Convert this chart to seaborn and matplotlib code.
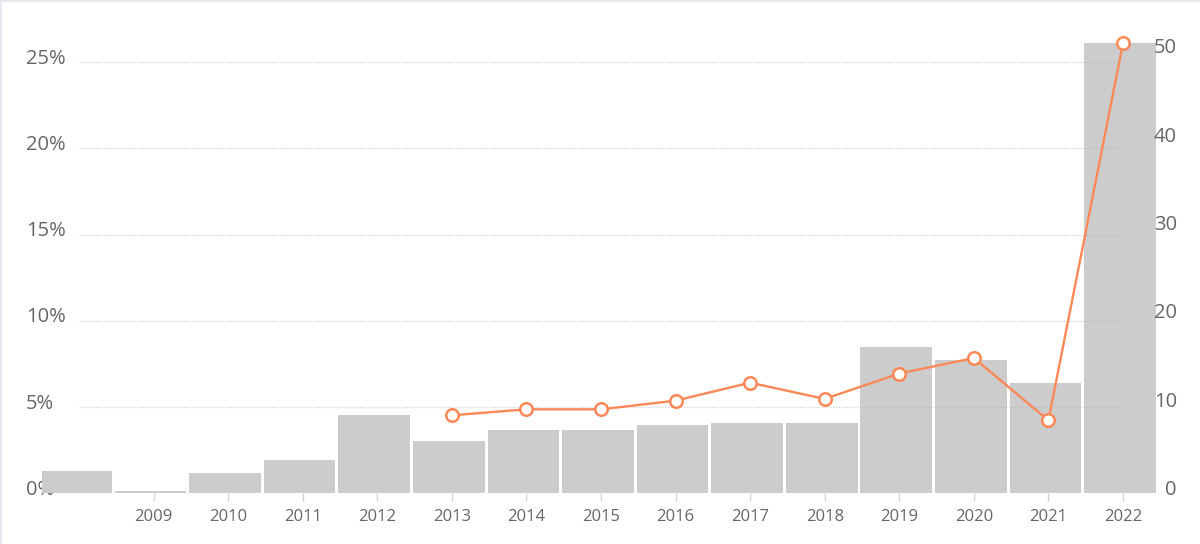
import matplotlib
matplotlib.use("Agg")
import matplotlib.pyplot as plt
import matplotlib.transforms as mtransforms
from matplotlib.lines import Line2D
import numpy as np
import seaborn as sns

# values
years = ["2008", "2009", "2010", "2011", "2012", "2013", "2014", "2015",
         "2016", "2017", "2018", "2019", "2020", "2021", "2022"]
tick_labels = ["", "2009", "2010", "2011", "2012", "2013", "2014", "2015",
               "2016", "2017", "2018", "2019", "2020", "2021", "2022"]
bar_share = [1.31, 0.15, 1.19, 1.91, 4.57, 3.03, 3.67, 3.67,
             3.98, 4.06, 4.07, 8.49, 7.75, 6.38, 26.1]
line_count = [np.nan, np.nan, np.nan, np.nan, np.nan, 8.83, 9.51, 9.51,
              10.49, 12.53, 10.69, 13.56, 15.32, 8.26, 50.95]
left_ticks = [0, 5, 10, 15, 20, 25]
right_ticks = [0, 10, 20, 30, 40, 50]

sns.set_theme(style="white")
plt.rcParams["font.family"] = ["Open Sans", "DejaVu Sans"]

text_grey = "#666666"
bar_grey = "#cccccc"
orange = "#fd8857"

fig = plt.figure(figsize=(12, 5.44), dpi=100)
ax = fig.add_axes([0.0347, 0.0932, 0.9322, 0.87])

sns.barplot(x=years, y=bar_share, ax=ax, color=bar_grey, width=0.96,
            saturation=1, edgecolor="none", zorder=1)
# bars sit a few pixels left of their tick in the original
for p in ax.patches:
    p.set_x(p.get_x() - 0.04)

ax2 = ax.twinx()
xpos = np.arange(len(years))
sns.lineplot(x=xpos, y=line_count, ax=ax2, color=orange, linewidth=1.7,
             marker="o", markersize=9, markerfacecolor="white",
             markeredgecolor=orange, markeredgewidth=1.8, zorder=5)

ax.set_xlim(-0.5, len(years) - 0.5)
ax.set_ylim(0, 27.45)
ax2.set_ylim(0, 53.6)

# dotted grid from first to last bar centre
ax.hlines(left_ticks, 0, len(years) - 1, colors="#b4b4b4", alpha=0.6,
          linewidth=0.9, linestyles=(0, (1, 1.2)), zorder=3)

for a in (ax, ax2):
    for s in a.spines.values():
        s.set_visible(False)
    a.set_xlabel("")
    a.set_ylabel("")
    a.grid(False)

# x ticks
shown = [i for i, t in enumerate(tick_labels) if t]
ax.set_xticks(shown, labels=[tick_labels[i] for i in shown])
ax.tick_params(axis="x", bottom=True, length=6, width=1, color="#d4d4d4",
               pad=5, labelsize=12, labelcolor=text_grey)

# y ticks
ax.set_yticks(left_ticks, labels=[f"{v}%" for v in left_ticks])
ax.tick_params(axis="y", left=False, length=0, pad=11.4, labelsize=14.5,
               labelcolor=text_grey)
ax2.set_yticks(right_ticks, labels=[str(v) for v in right_ticks])
ax2.tick_params(axis="y", right=False, length=0, pad=12, labelsize=14.5,
                labelcolor=text_grey)

up = mtransforms.ScaledTranslation(0, 0.06, fig.dpi_scale_trans)
for lab in ax.get_yticklabels():
    lab.set_horizontalalignment("left")
    lab.set_transform(lab.get_transform() + up)
for lab in ax2.get_yticklabels():
    lab.set_horizontalalignment("right")
    lab.set_transform(lab.get_transform() + up)

if ax2.get_legend() is not None:
    ax2.get_legend().remove()

# faint card border on top and left
fig.add_artist(Line2D([0, 1], [0.998, 0.998], color="#e6e6ee", linewidth=1.5,
                      transform=fig.transFigure))
fig.add_artist(Line2D([0.001, 0.001], [0, 1], color="#e6e6ee", linewidth=1.5,
                      transform=fig.transFigure))

fig.savefig("out.png", dpi=100)
